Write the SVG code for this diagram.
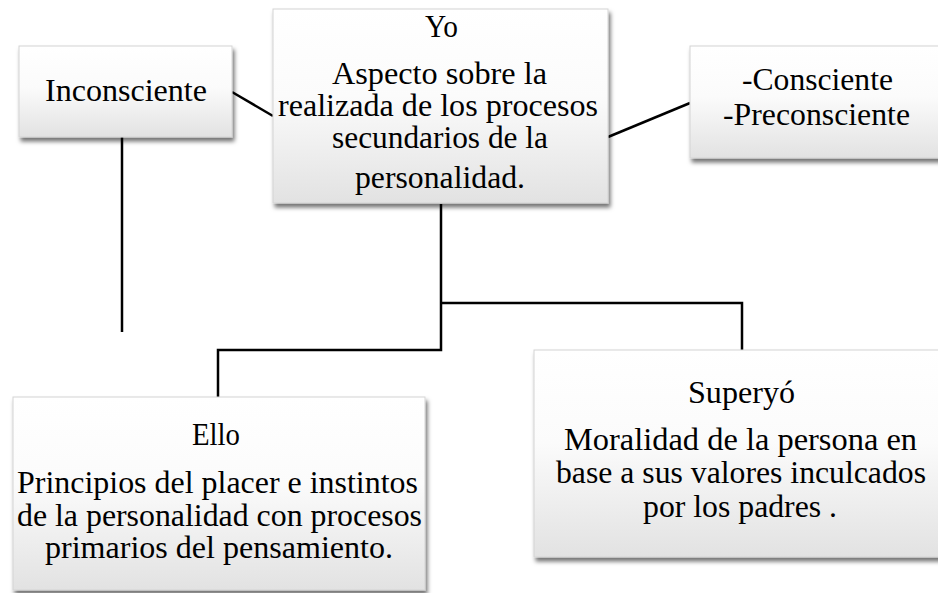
<svg xmlns="http://www.w3.org/2000/svg" width="938" height="593" viewBox="0 0 938 593">
<defs>
<linearGradient id="g" x1="0" y1="0" x2="0" y2="1">
<stop offset="0" stop-color="#ffffff"/>
<stop offset="0.45" stop-color="#fbfbfb"/>
<stop offset="1" stop-color="#e2e2e2"/>
</linearGradient>
<filter id="sh" x="-5%" y="-5%" width="115%" height="120%">
<feDropShadow dx="2" dy="4" stdDeviation="2" flood-color="#000" flood-opacity="0.55"/>
</filter>
</defs>
<style>
.box{fill:url(#g);stroke:#d4d4d4;stroke-width:1;filter:url(#sh)}
.c{fill:none;stroke:#000;stroke-width:2.5}
.t{font-family:'Liberation Serif','Times New Roman',serif;font-size:31px;fill:#000}
</style>
<rect width="938" height="593" fill="#fff"/>
<g id="connectors">
<line class="c" x1="232" y1="92" x2="273" y2="116"/>
<line class="c" x1="608" y1="137" x2="690" y2="103"/>
<line class="c" x1="122" y1="137" x2="122" y2="332"/>
<path class="c" d="M441,204 V350 H218 V397"/>
<path class="c" d="M441,303 H742 V350"/>
</g>
<g id="inconsciente">
<rect class="box" x="19" y="46" width="213" height="91"/>
<text class="t" x="45" y="101" textLength="162" lengthAdjust="spacingAndGlyphs">Inconsciente</text>
</g>
<g id="yo">
<rect class="box" x="273" y="9" width="335" height="194"/>
<text class="t" x="425" y="37" textLength="33" lengthAdjust="spacingAndGlyphs">Yo</text>
<text class="t" x="332" y="84" textLength="215" lengthAdjust="spacingAndGlyphs">Aspecto sobre la</text>
<text class="t" x="278" y="116" textLength="320" lengthAdjust="spacingAndGlyphs">realizada de los procesos</text>
<text class="t" x="332" y="148" textLength="216" lengthAdjust="spacingAndGlyphs">secundarios de la</text>
<text class="t" x="355" y="188" textLength="170" lengthAdjust="spacingAndGlyphs">personalidad.</text>
</g>
<g id="consciente">
<rect class="box" x="690" y="46" width="256" height="112"/>
<text class="t" x="742" y="90" textLength="151" lengthAdjust="spacingAndGlyphs">-Consciente</text>
<text class="t" x="723" y="125" textLength="187" lengthAdjust="spacingAndGlyphs">-Preconsciente</text>
</g>
<g id="ello">
<rect class="box" x="13" y="397" width="412" height="193"/>
<text class="t" x="192" y="445" textLength="48" lengthAdjust="spacingAndGlyphs">Ello</text>
<text class="t" x="17" y="493" textLength="401" lengthAdjust="spacingAndGlyphs">Principios del placer e instintos</text>
<text class="t" x="17" y="526" textLength="405" lengthAdjust="spacingAndGlyphs">de la personalidad con procesos</text>
<text class="t" x="45" y="558" textLength="348" lengthAdjust="spacingAndGlyphs">primarios del pensamiento.</text>
</g>
<g id="superyo">
<rect class="box" x="534" y="350" width="414" height="207"/>
<text class="t" x="688" y="403" textLength="107" lengthAdjust="spacingAndGlyphs">Superyó</text>
<text class="t" x="564" y="450" textLength="353" lengthAdjust="spacingAndGlyphs">Moralidad de la persona en</text>
<text class="t" x="556" y="483" textLength="370" lengthAdjust="spacingAndGlyphs">base a sus valores inculcados</text>
<text class="t" x="643" y="517" textLength="194" lengthAdjust="spacingAndGlyphs">por los padres .</text>
</g>
</svg>
